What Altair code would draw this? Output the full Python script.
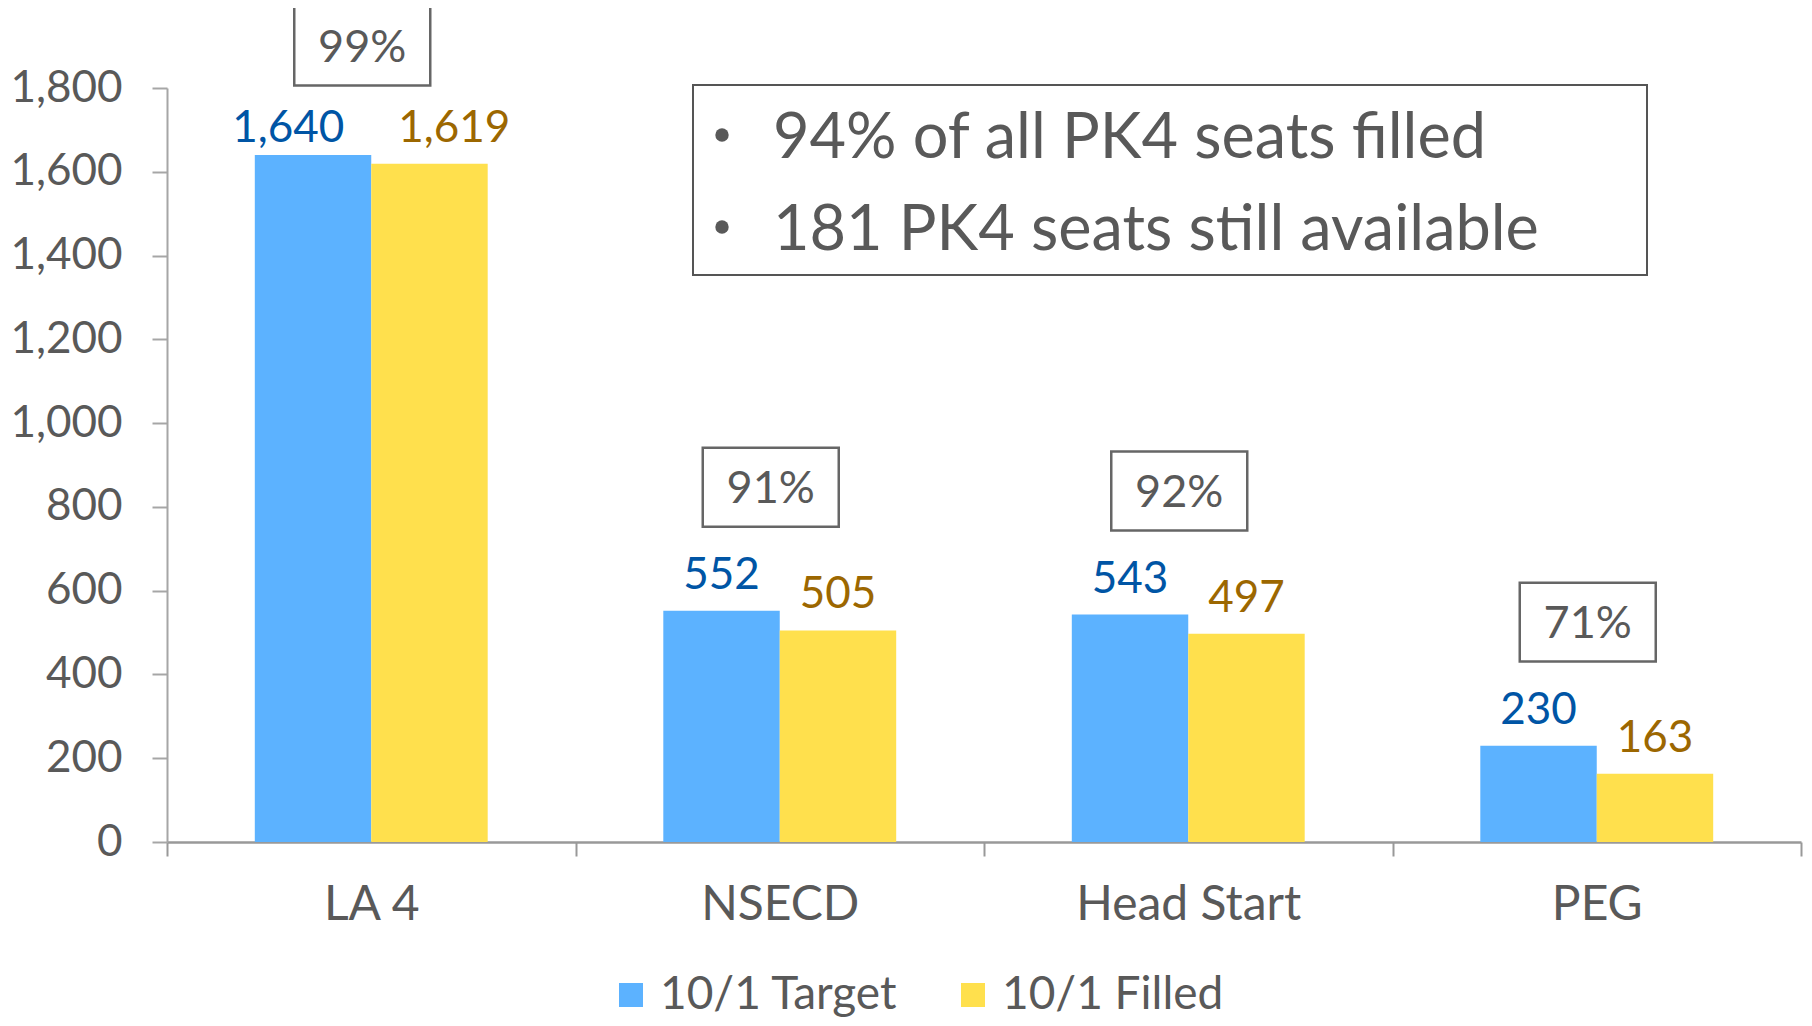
import altair as alt
import pandas as pd

CATEGORIES = ["LA 4", "NSECD", "Head Start", "PEG"]
SERIES = ["10/1 Target", "10/1 Filled"]
TARGET = [1640, 552, 543, 230]
FILLED = [1619, 505, 497, 163]
PCT_LABELS = ["99%", "91%", "92%", "71%"]
NOTE_LINES = ["94% of all PK4 seats filled", "181 PK4 seats still available"]
Y_TICKS = [0, 200, 400, 600, 800, 1000, 1200, 1400, 1600, 1800]

BAR_COLORS = ["#5CB2FF", "#FFE04D"]
LABEL_COLORS = ["#0055A5", "#9C6700"]
GRAY = "#595959"
FONT = "Lato"

rows = []
for i, c in enumerate(CATEGORIES):
    rows.append({"category": c, "series": SERIES[0], "value": TARGET[i]})
    rows.append({"category": c, "series": SERIES[1], "value": FILLED[i]})
df = pd.DataFrame(rows)
pct_df = pd.DataFrame({"category": CATEGORIES, "pct": PCT_LABELS, "target": TARGET})
one = pd.DataFrame({"k": [0]})

y_scale = alt.Scale(domain=[0, 1800], nice=False)
y_axis = alt.Axis(
    title=None, values=Y_TICKS, format=",.0f", grid=False, tickSize=15,
    tickColor="#A6A6A6", tickWidth=2, domainColor="#A6A6A6", domainWidth=2,
    labelFont=FONT, labelFontSize=44, labelColor=GRAY, labelPadding=30, labelLimit=400,
)
x_axis = alt.Axis(
    title=None, labelAngle=0, tickBand="extent", tickSize=14, tickColor="#999999",
    tickWidth=2, domainColor="#999999", domainWidth=2.5, labelFont=FONT,
    labelFontSize=48, labelColor=GRAY, labelPadding=25, labelLimit=600,
)
x_scale = alt.Scale(paddingInner=0, paddingOuter=0)


def X():
    return alt.X("category:N", sort=CATEGORIES, scale=x_scale, axis=x_axis)


def Y(field):
    return alt.Y(field, scale=y_scale, axis=y_axis)


xoff = alt.XOffset("series:N", sort=SERIES,
                   scale=alt.Scale(domain=SERIES, paddingInner=0, paddingOuter=0.754))

bars = alt.Chart(df).mark_bar().encode(
    x=X(),
    xOffset=xoff,
    y=Y("value:Q"),
    color=alt.Color(
        "series:N", sort=SERIES,
        scale=alt.Scale(domain=SERIES, range=BAR_COLORS),
        legend=alt.Legend(
            title=None, orient="none", direction="horizontal", legendX=441, legendY=884,
            symbolType="square", symbolSize=576, symbolStrokeWidth=0, labelFont=FONT,
            labelFontSize=46, labelColor=GRAY, labelOffset=6, columnPadding=52,
            padding=0, symbolOpacity=1, labelLimit=600,
        ),
    ),
)

# label position as a fraction of the category band: over each bar, spread wider for long labels;
# long labels of one category share a baseline (the lower of the two bars)
value_labels = alt.Chart(df).transform_calculate(
    lab_pos="0.5 + (datum.series == '10/1 Target' ? -1 : 1) * (datum.value >= 1000 ? 0.203 : 0.1425)"
).transform_joinaggregate(
    cat_min="min(value)", groupby=["category"]
).transform_calculate(
    lab_v="datum.value >= 1000 ? datum.cat_min : datum.value"
).mark_text(
    dy=-22, baseline="alphabetic", font=FONT, fontSize=44
).encode(
    x=X(),
    xOffset=alt.XOffset("lab_pos:Q", scale=alt.Scale(domain=[0, 1], nice=False, zero=False)),
    y=Y("lab_v:Q"),
    text=alt.Text("value:Q", format=","),
    color=alt.Color("series:N", scale=alt.Scale(domain=SERIES, range=LABEL_COLORS), legend=None),
)

boxes = alt.Chart(pct_df).transform_calculate(
    value="min(datum.target + 295, 1900)"
).mark_point(
    shape="M-1,-0.58H1V0.58H-1Z", size=136 * 136, filled=False,
    stroke="#666666", strokeWidth=2.5, opacity=1, xOffset=-9,
).encode(
    x=X(),
    y=Y("value:Q"),
)

pct_text = alt.Chart(pct_df).transform_calculate(
    value="min(datum.target + 295, 1900)"
).mark_text(
    dy=16, dx=-9, baseline="alphabetic", font=FONT, fontSize=45, color=GRAY
).encode(
    x=X(),
    y=Y("value:Q"),
    text="pct:N",
)

note_box = alt.Chart(one).mark_rect(
    fill="white", stroke="#555555", strokeWidth=2
).encode(
    x=alt.value(526), x2=alt.value(1480), y=alt.value(-3), y2=alt.value(187)
)

note_layers = []
for line, base, dot in [(NOTE_LINES[0], 70, 47), (NOTE_LINES[1], 162, 139)]:
    note_layers.append(
        alt.Chart(one).mark_point(filled=True, shape="circle", size=180, color=GRAY, opacity=1)
        .encode(x=alt.value(555), y=alt.value(dot))
    )
    note_layers.append(
        alt.Chart(one).transform_calculate(t=repr(line)).mark_text(
            align="left", baseline="alphabetic", font=FONT, fontSize=63, color=GRAY
        ).encode(x=alt.value(606), y=alt.value(base), text="t:N")
    )

chart = alt.layer(
    bars, value_labels, boxes, pct_text, note_box, *note_layers
).resolve_scale(color="independent", xOffset="independent").properties(
    width=1634, height=754,
    padding={"left": 159, "top": 80, "right": 3, "bottom": 178},
    autosize=alt.AutoSizeParams(type="none"),
).configure_view(stroke=None)

chart.save("out.html", embed_options={"renderer": "svg", "actions": False})
